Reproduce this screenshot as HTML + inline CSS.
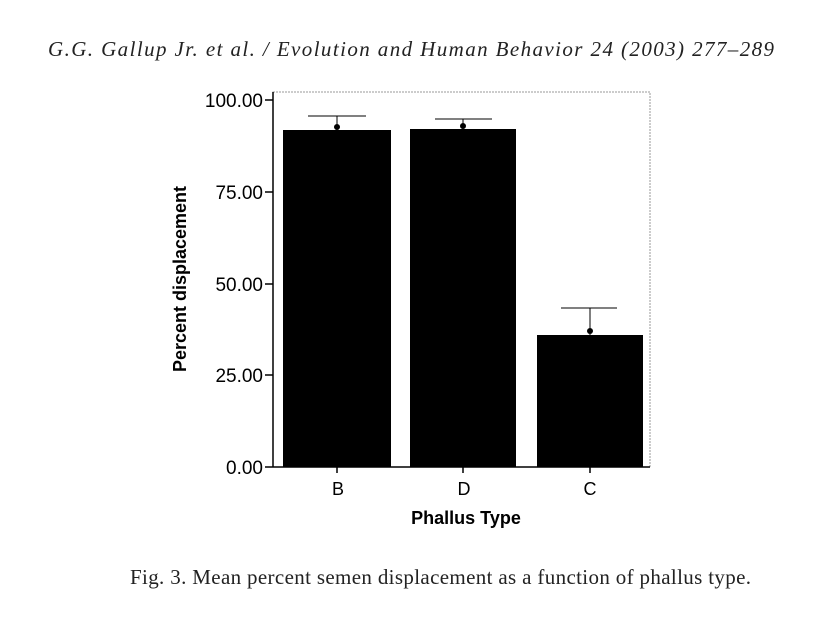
<!DOCTYPE html>
<html><head><meta charset="utf-8"><style>
body{margin:0;background:#fff;width:819px;height:617px;overflow:hidden}
</style></head><body>
<svg width="819" height="617" xmlns="http://www.w3.org/2000/svg">
<text x="48" y="56" textLength="726" lengthAdjust="spacing" font-family="Liberation Serif" font-style="italic" font-size="21" fill="#222">G.G. Gallup Jr. et al. / Evolution and Human Behavior 24 (2003) 277–289</text>
<rect x="273" y="92" width="377" height="375" fill="none" stroke="#999" stroke-width="1" stroke-dasharray="2,1"/>
<line x1="273" y1="92" x2="273" y2="467" stroke="#000" stroke-width="1.5"/>
<line x1="273" y1="467" x2="650" y2="467" stroke="#000" stroke-width="1.5"/>
<g stroke="#000" stroke-width="1.5">
<line x1="265" y1="100" x2="273" y2="100"/><line x1="265" y1="192" x2="273" y2="192"/>
<line x1="265" y1="284" x2="273" y2="284"/><line x1="265" y1="375" x2="273" y2="375"/>
<line x1="265" y1="467" x2="273" y2="467"/>
<line x1="337" y1="467" x2="337" y2="473"/><line x1="463" y1="467" x2="463" y2="473"/><line x1="590" y1="467" x2="590" y2="473"/>
</g>
<g font-family="Liberation Sans" font-size="19" text-anchor="end" fill="#000">
<text x="263" y="107">100.00</text><text x="263" y="199">75.00</text>
<text x="263" y="291">50.00</text><text x="263" y="382">25.00</text><text x="263" y="474">0.00</text>
</g>
<g font-family="Liberation Sans" font-size="18" text-anchor="middle">
<text x="338" y="495">B</text><text x="464" y="495">D</text><text x="590" y="495">C</text>
</g>
<text x="466" y="524" text-anchor="middle" font-family="Liberation Sans" font-weight="bold" font-size="18">Phallus Type</text>
<text transform="translate(186,279) rotate(-90)" text-anchor="middle" font-family="Liberation Sans" font-weight="bold" font-size="18">Percent displacement</text>
<rect x="283" y="130" width="108" height="337" fill="#000"/>
<rect x="410" y="129" width="106" height="338" fill="#000"/>
<rect x="537" y="335" width="106" height="132" fill="#000"/>
<g stroke="#000" stroke-width="1">
<line x1="308" y1="116" x2="366" y2="116"/><line x1="337" y1="116" x2="337" y2="130"/>
<line x1="435" y1="119" x2="492" y2="119"/><line x1="463" y1="119" x2="463" y2="129"/>
<line x1="561" y1="308" x2="617" y2="308"/><line x1="590" y1="308" x2="590" y2="335"/>
</g>
<circle cx="337" cy="127" r="3" fill="#000"/><circle cx="463" cy="126" r="3" fill="#000"/><circle cx="590" cy="331" r="3" fill="#000"/>
<text x="130" y="584" textLength="621" lengthAdjust="spacing" font-family="Liberation Serif" font-size="21" fill="#222">Fig. 3. Mean percent semen displacement as a function of phallus type.</text>
</svg>
</body></html>
